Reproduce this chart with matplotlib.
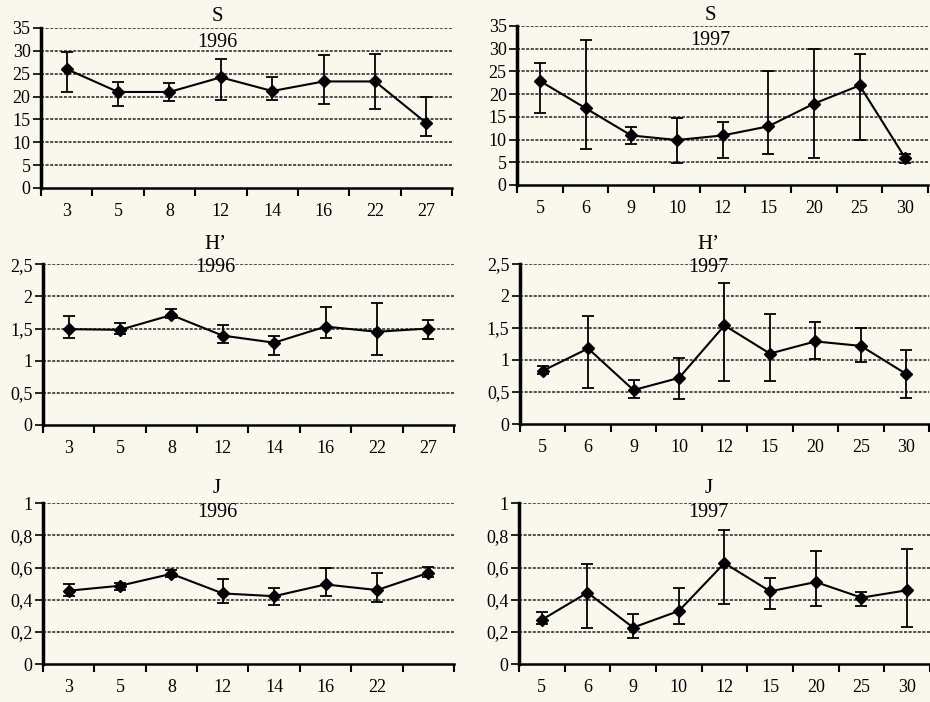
import numpy as np
import matplotlib.pyplot as plt

plt.rcParams['font.family'] = ['Liberation Serif', 'DejaVu Serif']

# stations (tick labels)
st96 = ['3', '5', '8', '12', '14', '16', '22', '27']
st97 = ['5', '6', '9', '10', '12', '15', '20', '25', '30']
st96_j = ['3', '5', '8', '12', '14', '16', '22', '']

# S (species richness)
s96 = [26, 21, 21, 24.2, 21.2, 23.3, 23.3, 14.2]
s96_lo = [21.1, 18, 19.1, 19.2, 19.2, 18.3, 17.3, 11.3]
s96_hi = [29.8, 23.1, 23, 28.2, 24.2, 29.1, 29.2, 20]
s97 = [22.9, 16.9, 10.9, 9.9, 10.9, 12.9, 17.9, 21.9, 5.9]
s97_lo = [15.9, 7.9, 9.0, 4.9, 5.9, 6.9, 5.9, 9.9, 4.9]
s97_hi = [26.9, 32, 12.8, 14.8, 13.9, 25, 29.9, 28.9, 6.8]

# H'
h96 = [1.49, 1.48, 1.71, 1.39, 1.28, 1.53, 1.45, 1.50]
h96_lo = [1.35, 1.42, 1.66, 1.27, 1.09, 1.35, 1.09, 1.33]
h96_hi = [1.70, 1.58, 1.81, 1.56, 1.39, 1.84, 1.90, 1.63]
h97 = [0.83, 1.18, 0.53, 0.72, 1.54, 1.10, 1.29, 1.22, 0.78]
h97_lo = [0.78, 0.56, 0.41, 0.39, 0.67, 0.67, 1.02, 0.97, 0.41]
h97_hi = [0.90, 1.69, 0.68, 1.03, 2.20, 1.72, 1.60, 1.50, 1.15]

# J
j96 = [0.456, 0.487, 0.561, 0.439, 0.422, 0.495, 0.460, 0.567]
j96_lo = [0.422, 0.462, 0.544, 0.381, 0.366, 0.424, 0.387, 0.544]
j96_hi = [0.497, 0.505, 0.584, 0.530, 0.470, 0.596, 0.565, 0.604]
j97 = [0.275, 0.444, 0.227, 0.330, 0.628, 0.452, 0.510, 0.413, 0.459]
j97_lo = [0.248, 0.227, 0.159, 0.248, 0.374, 0.345, 0.360, 0.364, 0.229]
j97_hi = [0.326, 0.622, 0.312, 0.473, 0.833, 0.535, 0.702, 0.450, 0.717]

bg = '#faf7ec'
fig = plt.figure(figsize=(9.3, 7.02), dpi=100, facecolor=bg)


def panel(rect, labels, vals, lo, hi, ymax, ystep, ylabels, title, year, tx, ty1, ty2):
    ax = fig.add_axes(rect)
    ax.set_facecolor(bg)
    n = len(vals)
    x = np.arange(n)
    vals = np.array(vals)
    yerr = [vals - np.array(lo), np.array(hi) - vals]
    ax.errorbar(x, vals, yerr=yerr, color='black', lw=1.5, marker='D', ms=6.5,
                capsize=4.5, elinewidth=1.3, capthick=1.3, zorder=3)
    ax.set_xlim(-0.5, n - 0.5)
    ax.set_ylim(0, ymax)
    yt = np.arange(0, ymax + ystep / 2, ystep)
    ax.set_yticks(yt)
    ax.set_yticklabels(ylabels, fontsize=13)
    for v in yt[1:]:
        ax.axhline(v, color='#222222', lw=1.1, ls=(0, (2, 1)), zorder=1)
    ax.set_xticks(x)
    ax.set_xticklabels(labels, fontsize=13)
    ax.set_xticks(np.arange(n + 1) - 0.5, minor=True)
    ax.tick_params(axis='x', which='major', length=0, pad=11)
    ax.tick_params(axis='x', which='minor', length=6, width=1.5, direction='out')
    ax.tick_params(axis='y', length=6, width=1.2, pad=1.5)
    for s in ['top', 'right']:
        ax.spines[s].set_visible(False)
    ax.spines['left'].set_linewidth(2.5)
    ax.spines['bottom'].set_linewidth(1.8)
    ax.text(tx, ty1, title, transform=ax.transAxes, ha='center', va='center', fontsize=15)
    ax.text(tx, ty2, year, transform=ax.transAxes, ha='center', va='center', fontsize=14.5)
    return ax


s_lab = ['0', '5', '10', '15', '20', '25', '30', '35']
h_lab = ['0', '0,5', '1', '1,5', '2', '2,5']
j_lab = ['0', '0,2', '0,4', '0,6', '0,8', '1']

panel([0.0441, 0.7322, 0.442, 0.228], st96, s96, s96_lo, s96_hi, 35, 5, s_lab,
      'S', '1996', 0.428, 1.069, 0.91)
panel([0.556, 0.7365, 0.442, 0.2265], st97, s97, s97_lo, s97_hi, 35, 5, s_lab,
      'S', '1997', 0.47, 1.069, 0.91)
panel([0.0462, 0.3946, 0.442, 0.229], st96, h96, h96_lo, h96_hi, 2.5, 0.5, h_lab,
      "H\u2019", '1996', 0.42, 1.12, 0.98)
panel([0.559, 0.396, 0.44, 0.228], st97, h97, h97_lo, h97_hi, 2.5, 0.5, h_lab,
      "H\u2019", '1997', 0.46, 1.12, 0.98)
panel([0.0462, 0.0541, 0.442, 0.229], st96_j, j96, j96_lo, j96_hi, 1.0, 0.2, j_lab,
      'J', '1996', 0.423, 1.093, 0.944)
panel([0.558, 0.0541, 0.442, 0.229], st97, j97, j97_lo, j97_hi, 1.0, 0.2, j_lab,
      'J', '1997', 0.461, 1.093, 0.944)

fig.savefig('out.png', dpi=100, facecolor=bg)
